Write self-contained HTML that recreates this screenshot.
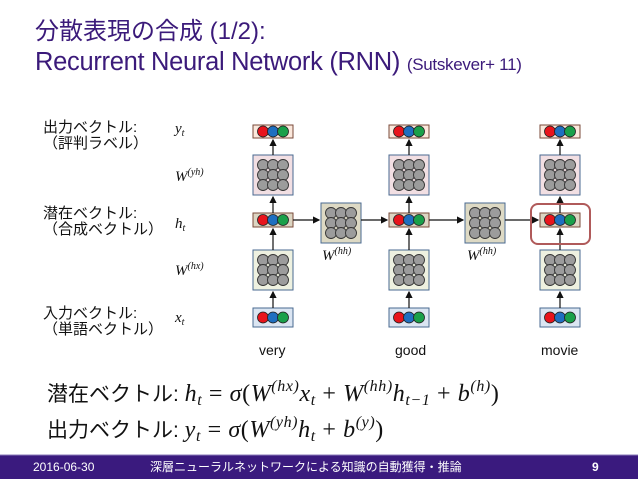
<!DOCTYPE html>
<html><head><meta charset="utf-8"><style>
body{margin:0;width:638px;height:479px;overflow:hidden;background:#fff}
svg{display:block}
.jp{font-family:"Liberation Sans","Noto Sans CJK JP",sans-serif}
.m{font-family:"Liberation Serif","DejaVu Serif",serif;font-style:italic}
</style></head><body>
<svg width="638" height="479" viewBox="0 0 638 479" xmlns="http://www.w3.org/2000/svg">
<defs>
<g id="dots"><circle cx="10" cy="6.5" r="5.5" fill="#e8141c" stroke="#222" stroke-width="0.8"/><circle cx="20" cy="6.5" r="5.5" fill="#1f6fc0" stroke="#222" stroke-width="0.8"/><circle cx="30" cy="6.5" r="5.5" fill="#1aa04a" stroke="#222" stroke-width="0.8"/></g>
<g id="grid" fill="#9c9c9c" stroke="#333" stroke-width="0.9">
<circle cx="10" cy="10" r="5.5"/><circle cx="20" cy="10" r="5.5"/><circle cx="30" cy="10" r="5.5"/>
<circle cx="10" cy="20" r="5.5"/><circle cx="20" cy="20" r="5.5"/><circle cx="30" cy="20" r="5.5"/>
<circle cx="10" cy="30" r="5.5"/><circle cx="20" cy="30" r="5.5"/><circle cx="30" cy="30" r="5.5"/></g>
<marker id="ar" markerWidth="6" markerHeight="6" refX="5" refY="3" orient="auto"><path d="M0,0 L6,3 L0,6z" fill="#111"/></marker>
<g id="col">
<rect x="0" y="0" width="40" height="13" fill="#fbe8dc" stroke="#7a4a3a"/><use href="#dots" x="0" y="0"/>
<rect x="0" y="30" width="40" height="40" fill="#f2dfe3" stroke="#4a6a90"/><use href="#grid" x="0" y="30"/>
<rect x="0" y="88" width="40" height="14" fill="#dcd5c2" stroke="#7a4a3a"/><use href="#dots" x="0" y="88.5"/>
<rect x="0" y="125" width="40" height="40" fill="#eef1e0" stroke="#4a6a90"/><use href="#grid" x="0" y="125"/>
<rect x="0" y="183" width="40" height="19" fill="#dbe5f2" stroke="#4a6a90"/><use href="#dots" x="0" y="186"/>
<g stroke="#111" stroke-width="1.2" marker-end="url(#ar)">
<line x1="20" y1="30" x2="20" y2="15"/><line x1="20" y1="88" x2="20" y2="72"/>
<line x1="20" y1="125" x2="20" y2="104"/><line x1="20" y1="183" x2="20" y2="167"/></g>
</g>
<g id="whh"><rect x="0" y="0" width="40" height="40" fill="#ddd9c4" stroke="#4a6a90"/><use href="#grid" x="0" y="0"/></g>
</defs>

<text class="jp" x="35" y="39" font-size="24" fill="#3b1a7a">分散表現の合成 (1/2):</text>
<text class="jp" x="35" y="70" font-size="25.5" fill="#3b1a7a" letter-spacing="-0.3">Recurrent Neural Network (RNN) <tspan font-size="17">(Sutskever+ 11)</tspan></text>

<g class="jp" font-size="15" fill="#111">
<text x="43" y="132">出力ベクトル:</text><text x="43" y="148">（評判ラベル）</text>
<text x="43" y="218">潜在ベクトル:</text><text x="43" y="234">（合成ベクトル）</text>
<text x="43" y="318">入力ベクトル:</text><text x="43" y="334">（単語ベクトル）</text>
</g>
<g class="m" font-size="15" fill="#111">
<text x="175" y="133">y<tspan font-size="10" dy="3">t</tspan></text>
<text x="175" y="181">W<tspan font-size="10" dy="-6">(yh)</tspan></text>
<text x="175" y="228">h<tspan font-size="10" dy="3">t</tspan></text>
<text x="175" y="275">W<tspan font-size="10" dy="-6">(hx)</tspan></text>
<text x="175" y="322">x<tspan font-size="10" dy="3">t</tspan></text>
<text x="322" y="260">W<tspan font-size="10" dy="-6">(hh)</tspan></text>
<text x="467" y="260">W<tspan font-size="10" dy="-6">(hh)</tspan></text>
</g>

<use href="#col" x="253" y="125"/>
<use href="#col" x="389" y="125"/>
<use href="#col" x="540" y="125"/>
<use href="#whh" x="321" y="203"/>
<use href="#whh" x="465" y="203"/>
<g stroke="#111" stroke-width="1.2" marker-end="url(#ar)">
<line x1="293" y1="220" x2="319" y2="220"/><line x1="361" y1="220" x2="387" y2="220"/>
<line x1="429" y1="220" x2="463" y2="220"/><line x1="505" y1="220" x2="538" y2="220"/>
</g>
<rect x="531" y="204" width="59" height="40" rx="7" fill="none" stroke="#b05a5a" stroke-width="2"/>

<g class="jp" font-size="14" fill="#111">
<text x="259" y="355">very</text><text x="395" y="355">good</text><text x="541" y="355">movie</text>
</g>

<g font-size="21" fill="#111">
<text x="47" y="401"><tspan class="jp">潜在ベクトル: </tspan><tspan class="m" font-size="24" letter-spacing="0.6">h<tspan font-size="16" dy="4">t</tspan><tspan dy="-4" font-style="normal"> = </tspan>σ<tspan font-style="normal">(</tspan>W<tspan font-size="16" dy="-10">(hx)</tspan><tspan dy="10">x</tspan><tspan font-size="16" dy="4">t</tspan><tspan dy="-4" font-style="normal"> + </tspan>W<tspan font-size="16" dy="-10">(hh)</tspan><tspan dy="10">h</tspan><tspan font-size="16" dy="4">t−1</tspan><tspan dy="-4" font-style="normal"> + </tspan>b<tspan font-size="16" dy="-10">(h)</tspan><tspan dy="10" font-style="normal">)</tspan></tspan></text>
<text x="47" y="437"><tspan class="jp">出力ベクトル: </tspan><tspan class="m" font-size="24" letter-spacing="0.6">y<tspan font-size="16" dy="4">t</tspan><tspan dy="-4" font-style="normal"> = </tspan>σ<tspan font-style="normal">(</tspan>W<tspan font-size="16" dy="-10">(yh)</tspan><tspan dy="10">h</tspan><tspan font-size="16" dy="4">t</tspan><tspan dy="-4" font-style="normal"> + </tspan>b<tspan font-size="16" dy="-10">(y)</tspan><tspan dy="10" font-style="normal">)</tspan></tspan></text>
</g>

<rect x="0" y="455" width="638" height="24" fill="#3a1a7e"/>
<line x1="0" y1="455" x2="638" y2="455" stroke="#8a7ab8" stroke-width="1"/>
<g class="jp" font-size="12" fill="#fff">
<text x="33" y="471">2016-06-30</text>
<text x="150" y="471">深層ニューラルネットワークによる知識の自動獲得・推論</text>
<text x="592" y="471" font-weight="bold">9</text>
</g>
</svg>
</body></html>
